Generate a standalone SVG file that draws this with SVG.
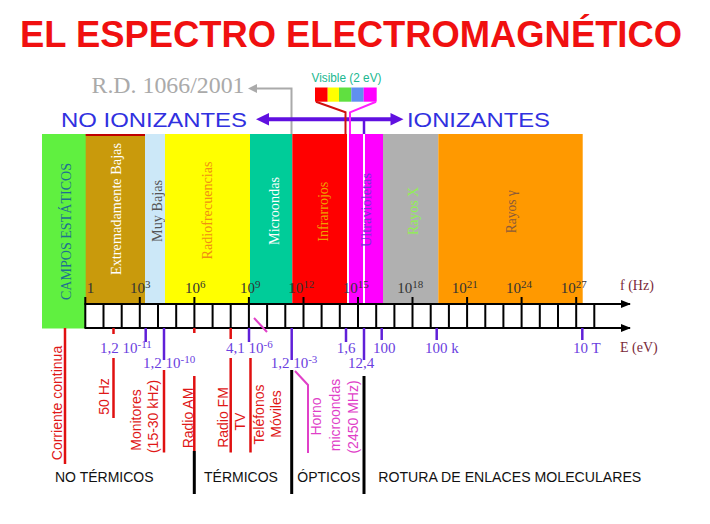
<svg xmlns="http://www.w3.org/2000/svg" width="710" height="524" viewBox="0 0 710 524">
<style>
.serif{font-family:"Liberation Serif","Times New Roman",serif}
.sans{font-family:"Liberation Sans",Arial,sans-serif}
.band{font-family:"Liberation Serif","Times New Roman",serif;font-size:14.5px;text-anchor:middle;dominant-baseline:central}
.vl{font-family:"Liberation Sans",Arial,sans-serif;font-size:14px;text-anchor:middle;dominant-baseline:central;fill:#e01818}
.pk{fill:#e040c8}
.fq{font-family:"Liberation Serif","Times New Roman",serif;font-size:15px;fill:#333}
.ev{font-family:"Liberation Serif","Times New Roman",serif;font-size:15px;fill:#6a40e0}
.cat{font-family:"Liberation Sans",Arial,sans-serif;font-size:14px;fill:#111}
.red{stroke:#e01010;stroke-width:2.5;fill:none}
.pur{stroke:#6020d8;stroke-width:2.5;fill:none}
.blk{stroke:#000;stroke-width:3;fill:none}
</style>
<defs>
<marker id="ah" markerWidth="10" markerHeight="8" refX="9" refY="4" orient="auto" markerUnits="userSpaceOnUse"><path d="M0,0L10,4L0,8z" fill="#000"/></marker>
</defs>
<rect width="710" height="524" fill="#fff"/>

<g id="title"><text x="20" y="47" class="sans" font-size="36" font-weight="bold" fill="#f01010" textLength="662" lengthAdjust="spacingAndGlyphs">EL ESPECTRO ELECTROMAGNÉTICO</text></g>

<g id="rd"><text x="91.5" y="93" class="serif" font-size="24" fill="#aaaaaa" textLength="153" lengthAdjust="spacingAndGlyphs">R.D. 1066/2001</text></g>

<g id="no-ionizantes"><text x="61" y="127" class="sans" font-size="21" fill="#3030e0" textLength="186" lengthAdjust="spacingAndGlyphs">NO IONIZANTES</text></g>
<g id="ionizantes"><text x="407" y="127" class="sans" font-size="21" fill="#3030e0" textLength="143" lengthAdjust="spacingAndGlyphs">IONIZANTES</text></g>

<g id="visible">
<text x="311.5" y="81.5" class="sans" font-size="12" fill="#20b890" textLength="70" lengthAdjust="spacingAndGlyphs">Visible (2 eV)</text>
<rect x="315" y="87.5" width="12.7" height="14.2" fill="#ff0000"/>
<rect x="327.7" y="87.5" width="11.3" height="14.2" fill="#ffff00"/>
<rect x="339" y="87.5" width="12.3" height="14.2" fill="#60e040"/>
<rect x="351.3" y="87.5" width="12.4" height="14.2" fill="#6090f0"/>
<rect x="363.7" y="87.5" width="13" height="14.2" fill="#ff00ff"/>
</g>

<g id="bands">
<g id="campos-estaticos"><rect x="42" y="134" width="44" height="194.5" fill="#60f040"/><text class="band" transform="translate(66,231.5) rotate(-90)" fill="#1f7090" font-size="15" textLength="137" lengthAdjust="spacingAndGlyphs">CAMPOS ESTÁTICOS</text></g>
<g id="extremadamente-bajas"><rect x="85.7" y="134" width="59.3" height="170" fill="#c99a0c"/><rect x="85.7" y="134" width="59.3" height="2" fill="#c00000"/><text class="band" transform="translate(116,209) rotate(-90)" fill="#ffffff" textLength="132" lengthAdjust="spacingAndGlyphs">Extremadamente Bajas</text></g>
<g id="muy-bajas"><rect x="145" y="134" width="20" height="170" fill="#cce8f8"/><text class="band" transform="translate(157,211) rotate(-90)" fill="#555555" textLength="62" lengthAdjust="spacingAndGlyphs">Muy Bajas</text></g>
<g id="radiofrecuencias"><rect x="165" y="134" width="85" height="170" fill="#ffff00"/><text class="band" transform="translate(207,210.5) rotate(-90)" fill="#f09010" textLength="98" lengthAdjust="spacingAndGlyphs">Radiofrecuencias</text></g>
<g id="microondas"><rect x="250" y="134" width="42.3" height="170" fill="#00cc99"/><text class="band" transform="translate(273.5,211) rotate(-90)" fill="#ffffff" textLength="68" lengthAdjust="spacingAndGlyphs">Microondas</text></g>
<g id="infrarrojos"><rect x="292.3" y="134" width="54.7" height="170" fill="#ff0000"/><text class="band" transform="translate(323,211.7) rotate(-90)" fill="#f0a000" textLength="60" lengthAdjust="spacingAndGlyphs">Infrarrojos</text></g>
<g id="ultravioletas"><rect x="349" y="134" width="34" height="170" fill="#ff00ff"/><line x1="364" y1="134" x2="364" y2="304" stroke="#fff" stroke-width="2"/><text class="band" transform="translate(366,210) rotate(-90)" fill="#7a30d8" textLength="74" lengthAdjust="spacingAndGlyphs">Ultravioletas</text></g>
<g id="rayos-x"><rect x="383" y="134" width="55.3" height="170" fill="#b0b0b0"/><text class="band" transform="translate(412.5,211) rotate(-90)" fill="#90f050" textLength="48" lengthAdjust="spacingAndGlyphs">Rayos X</text></g>
<g id="rayos-gamma"><rect x="438.3" y="134" width="144.4" height="170" fill="#ff9900"/><text class="band" transform="translate(511,211.7) rotate(-90)" fill="#8a5a3a" textLength="43" lengthAdjust="spacingAndGlyphs">Rayos γ</text></g>
</g>

<g id="axis">
<rect x="85.3" y="304" width="509" height="24" fill="#fff"/>
<path d="M85.3,297V328M103.5,304V328M121.7,304V328M139.8,297V328M158,304V328M176.2,304V328M194.4,297V328M212.6,304V328M230.7,304V328M248.9,297V328M267.1,304V328M285.3,304V328M303.5,297V328M321.6,304V328M339.8,304V328M358,297V328M376.2,304V328M394.4,304V328M412.5,297V328M430.7,304V328M448.9,304V328M467.1,297V328M485.3,304V328M503.4,304V328M521.6,297V328M539.8,304V328M558,304V328M576.2,297V328M594.3,304V328" stroke="#000" stroke-width="2" fill="none"/>
<line x1="84.5" y1="304" x2="630" y2="304" stroke="#000" stroke-width="2" marker-end="url(#ah)"/>
<line x1="84.5" y1="328" x2="630" y2="328" stroke="#000" stroke-width="2" marker-end="url(#ah)"/>
<text x="620" y="290" class="serif" font-size="14" fill="#7a2a3a">f (Hz)</text>
<text x="620" y="352" class="serif" font-size="14" fill="#7a2a3a">E (eV)</text>
</g>

<g id="freq-labels">
<text x="86.7" y="293" class="fq">1</text>
<text x="130" y="293" class="fq">10<tspan dy="-5" font-size="11">3</tspan></text>
<text x="185" y="293" class="fq">10<tspan dy="-5" font-size="11">6</tspan></text>
<text x="240" y="293" class="fq">10<tspan dy="-5" font-size="11">9</tspan></text>
<text x="288.3" y="293" class="fq">10<tspan dy="-5" font-size="11">12</tspan></text>
<text x="342.7" y="293" class="fq">10<tspan dy="-5" font-size="11">15</tspan></text>
<text x="397.3" y="293" class="fq">10<tspan dy="-5" font-size="11">18</tspan></text>
<text x="451.7" y="293" class="fq">10<tspan dy="-5" font-size="11">21</tspan></text>
<text x="506" y="293" class="fq">10<tspan dy="-5" font-size="11">24</tspan></text>
<text x="560.7" y="293" class="fq">10<tspan dy="-5" font-size="11">27</tspan></text>
</g>

<g id="connectors">
<polyline points="291.5,134 291.5,88.5 256,88.5" stroke="#aaaaaa" stroke-width="2" fill="none"/>
<polygon points="248,88.5 257,84 257,93" fill="#aaaaaa"/>
<line x1="266" y1="119.3" x2="393" y2="119.3" stroke="#6010e0" stroke-width="4"/>
<polygon points="256,119.3 269,113 269,125.6" fill="#6010e0"/>
<polygon points="403.5,119.3 390.5,113 390.5,125.6" fill="#6010e0"/>
<line x1="364" y1="119" x2="364" y2="134" stroke="#6010e0" stroke-width="2.5"/>
<polyline points="316,101.7 345.5,112.3 345.5,134" stroke="#d01010" stroke-width="2" fill="none"/>
<polyline points="376,101.7 350,112.3 350,134" stroke="#ff20ff" stroke-width="2" fill="none"/>

<line class="red" x1="65" y1="328" x2="65" y2="464"/>
<line class="red" x1="113.5" y1="328" x2="113.5" y2="334"/>
<line class="red" x1="113.5" y1="358" x2="113.5" y2="418"/>
<line class="red" x1="164" y1="370" x2="164" y2="452.5"/>
<line class="red" x1="194.3" y1="328" x2="194.3" y2="333" stroke-width="1.5"/>
<line class="red" x1="194.3" y1="376" x2="194.3" y2="451" stroke-width="1.5"/>
<line class="red" x1="230.7" y1="328" x2="230.7" y2="339"/>
<line class="red" x1="230.7" y1="358" x2="230.7" y2="452.5"/>
<line class="red" x1="250.5" y1="358" x2="250.5" y2="452.5" stroke-width="3"/>

<line class="pur" x1="145.7" y1="328" x2="145.7" y2="342"/>
<line class="pur" x1="164" y1="328" x2="164" y2="360"/>
<line class="pur" x1="249" y1="328" x2="249" y2="342"/>
<line class="pur" x1="291.7" y1="328" x2="291.7" y2="360" stroke-width="1.5"/>
<line class="pur" x1="346" y1="328" x2="346" y2="342"/>
<line class="pur" x1="364" y1="328" x2="364" y2="360"/>
<line class="pur" x1="381.7" y1="328" x2="381.7" y2="340"/>
<line class="pur" x1="436.7" y1="328" x2="436.7" y2="340"/>
<line class="pur" x1="582.3" y1="328" x2="582.3" y2="340"/>

<line x1="254" y1="318" x2="267" y2="332" stroke="#e040c8" stroke-width="2"/>
<polyline points="295,371 308,385 308,453" stroke="#e040c8" stroke-width="2" fill="none"/>

<line class="blk" x1="194.3" y1="451" x2="194.3" y2="494"/>
<line class="blk" x1="291.7" y1="370" x2="291.7" y2="494"/>
<line class="blk" x1="364" y1="376" x2="364" y2="494"/>
</g>

<g id="energy-labels">
<text x="100" y="353" class="ev">1,2 10<tspan dy="-5" font-size="11">-11</tspan></text>
<text x="143" y="368.3" class="ev">1,2 10<tspan dy="-5" font-size="11">-10</tspan></text>
<text x="226" y="353" class="ev">4,1 10<tspan dy="-5" font-size="11">-6</tspan></text>
<text x="270.7" y="368.3" class="ev">1,2 10<tspan dy="-5" font-size="11">-3</tspan></text>
<text x="336.7" y="352.7" class="ev">1,6</text>
<text x="348" y="368.3" class="ev">12,4</text>
<text x="373" y="353.3" class="ev">100</text>
<text x="425" y="353.3" class="ev">100 k</text>
<text x="573" y="353.3" class="ev">10 T</text>
</g>

<g id="sources">
<text class="vl" transform="translate(56.7,403) rotate(-90)">Corriente continua</text>
<text class="vl" transform="translate(104,396.5) rotate(-90)">50 Hz</text>
<text class="vl" transform="translate(136,420) rotate(-90)">Monitores</text>
<text class="vl" transform="translate(153,416.5) rotate(-90)">(15-30 kHz)</text>
<text class="vl" transform="translate(187.5,418) rotate(-90)">Radio AM</text>
<text class="vl" transform="translate(223,417.5) rotate(-90)">Radio FM</text>
<text class="vl" transform="translate(240,421.5) rotate(-90)">TV</text>
<text class="vl" transform="translate(258.5,414.5) rotate(-90)">Teléfonos</text>
<text class="vl" transform="translate(275.5,414) rotate(-90)">Móviles</text>
<text class="vl pk" transform="translate(316,416.5) rotate(-90)">Horno</text>
<text class="vl pk" transform="translate(335,415) rotate(-90)">microondas</text>
<text class="vl pk" transform="translate(352.5,417) rotate(-90)">(2450 MHz)</text>
</g>

<g id="categories">
<text x="55" y="482" class="cat">NO TÉRMICOS</text>
<text x="204" y="482" class="cat">TÉRMICOS</text>
<text x="297.3" y="482" class="cat">ÓPTICOS</text>
<text x="378.3" y="482" class="cat" textLength="263" lengthAdjust="spacingAndGlyphs">ROTURA DE ENLACES MOLECULARES</text>
</g>
</svg>
